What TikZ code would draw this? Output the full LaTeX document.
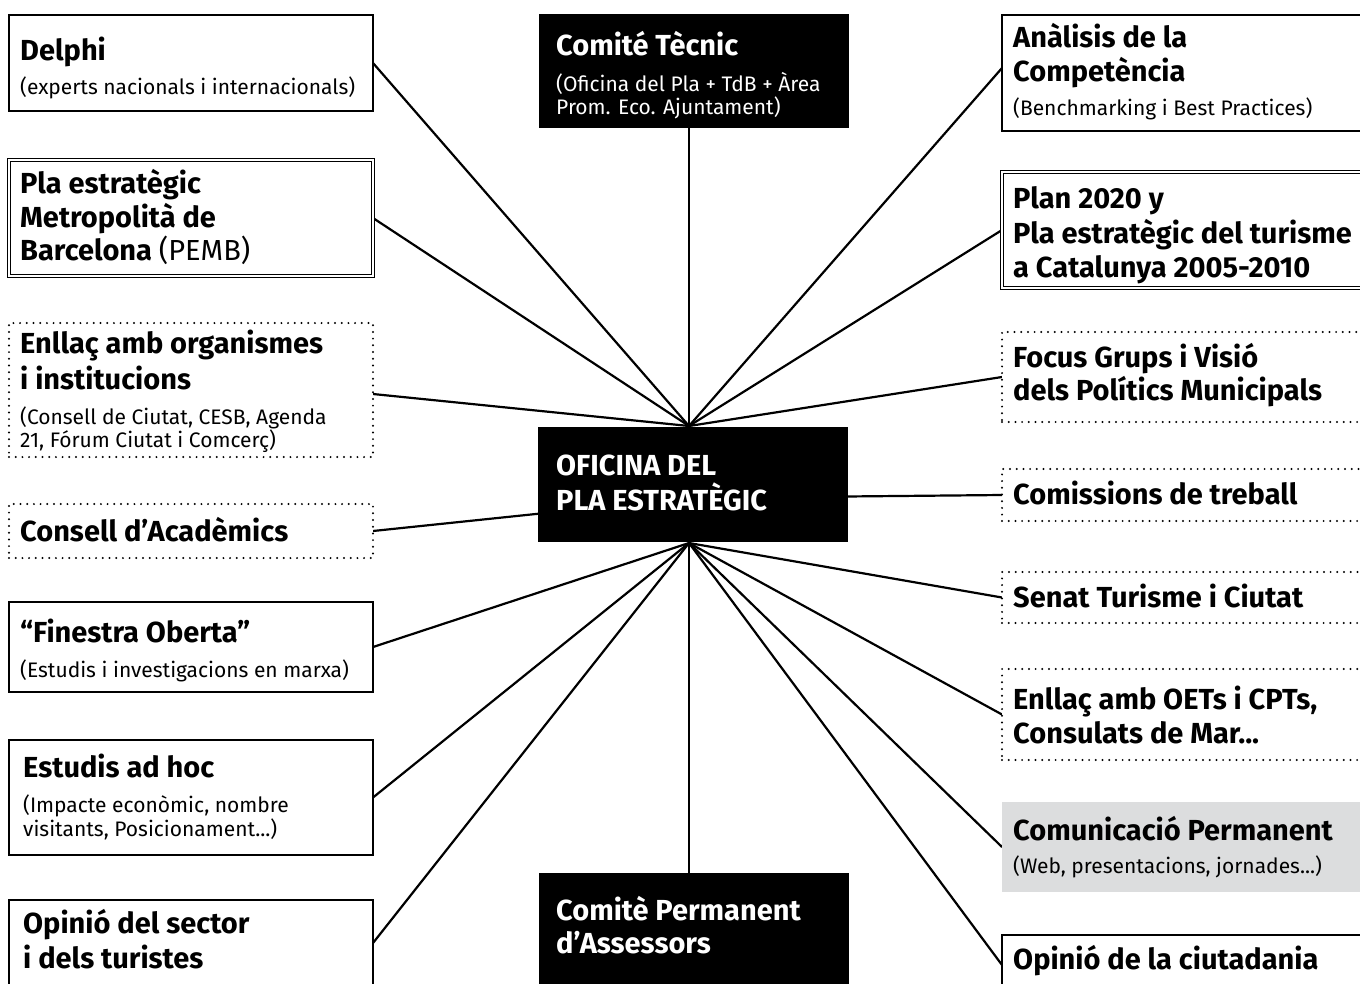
\documentclass[tikz,border=0pt]{standalone}
\usepackage{fontspec}
\setmainfont{Fira Sans}
\usetikzlibrary{backgrounds}
\definecolor{commgray}{RGB}{220,221,222}
\tikzset{
  x=1pt, y=-1pt,
  boxbase/.style={rectangle, inner sep=0pt, outer sep=0pt, anchor=north west},
  solidbox/.style={boxbase, draw=black, line width=2.4pt, fill=white},
  dblbox/.style={boxbase, draw=black, line width=1pt, double=white, double distance=1.3pt, fill=white},
  dotbox/.style={boxbase, draw=black, line width=2.2pt, dash pattern=on 0pt off 6.7pt, line cap=round, fill=white},
  greybox/.style={boxbase, fill=commgray},
  blackbox/.style={boxbase, fill=black},
  ttl/.style={inner sep=0pt, anchor=base west, font=\fontsize{29}{33}\selectfont\bfseries},
  sub/.style={inner sep=0pt, anchor=base west, font=\fontsize{21}{25}\selectfont},
  wttl/.style={ttl, text=white},
  wsub/.style={sub, text=white},
  conn/.style={draw=black, line width=2.2pt},
}
\begin{document}
\begin{tikzpicture}
\useasboundingbox (0,0) rectangle (1360,983);
\clip (0,0) rectangle (1360,983);
% left column
\node[solidbox, minimum width=364pt, minimum height=96pt] (delphi) at (9,15) {};
\node[dblbox, minimum width=364pt, minimum height=116pt] (pemb) at (9,160) {};
\node[dotbox, minimum width=364pt, minimum height=134pt] (enllac) at (9,323) {};
\node[dotbox, minimum width=364pt, minimum height=54pt] (consell) at (9,504) {};
\node[solidbox, minimum width=364pt, minimum height=90pt] (finestra) at (9,602) {};
\node[solidbox, minimum width=364pt, minimum height=115pt] (estudis) at (9,740) {};
\node[solidbox, minimum width=364pt, minimum height=90pt] (opsector) at (9,900) {};
% right column
\node[solidbox, minimum width=380pt, minimum height=116pt] (ana) at (1002,15) {};
\node[dblbox, minimum width=380pt, minimum height=116pt] (plan) at (1002,172) {};
\node[dotbox, minimum width=380pt, minimum height=90pt] (focus) at (1002,332) {};
\node[dotbox, minimum width=380pt, minimum height=52pt] (comis) at (1002,469) {};
\node[dotbox, minimum width=380pt, minimum height=51pt] (senat) at (1002,572) {};
\node[dotbox, minimum width=380pt, minimum height=91pt] (oets) at (1002,669) {};
\node[greybox, minimum width=380pt, minimum height=90pt] (comu) at (1002,802) {};
\node[solidbox, minimum width=380pt, minimum height=60pt] (opciu) at (1002,935) {};
% centre column
\node[blackbox, minimum width=310pt, minimum height=114pt] (tecnic) at (539,14) {};
\node[blackbox, minimum width=310pt, minimum height=115pt] (ofi) at (538,427) {};
\node[blackbox, minimum width=310pt, minimum height=120pt] (perm) at (539,873) {};
\coordinate (hubT) at (689,426);
\coordinate (hubM) at (689,498);
\coordinate (hubB) at (689,543);
% connectors
\begin{pgfonlayer}{background}
\draw[conn] (hubT) -- (hubT |- tecnic.south);
\draw[conn] (hubB) -- (hubB |- perm.north);
\draw[conn] (hubT) -- (delphi.east);
\draw[conn] (hubT) -- (pemb.east);
\draw[conn] (hubT) -- ([yshift=-4pt]enllac.east);
\draw[conn] (hubM) -- (consell.east);
\draw[conn] (hubB) -- (finestra.east);
\draw[conn] (hubB) -- (estudis.east);
\draw[conn] (hubB) -- ([yshift=2pt]opsector.east);
\draw[conn] (hubT) -- ([yshift=5pt]ana.west);
\draw[conn] (hubT) -- (plan.west);
\draw[conn] (hubT) -- (focus.west);
\draw[conn] (hubM) -- (comis.west);
\draw[conn] (hubB) -- (senat.west);
\draw[conn] (hubB) -- (oets.west);
\draw[conn] (hubB) -- (comu.west);
\draw[conn] (hubB) -- (opciu.west);
\end{pgfonlayer}
% texts left
\node[ttl] (t1) at (20,60) {Delphi};
\node[sub] (s1) at (20,94) {(experts nacionals i internacionals)};
\node[ttl] (t2a) at (20,193) {Pla estratègic};
\node[ttl] (t2b) at (20,227) {Metropolità de};
\node[ttl] (t2c) at (20,260) {Barcelona {\mdseries (PEMB)}};
\node[ttl] (t3a) at (20,353) {Enllaç amb organismes};
\node[ttl] (t3b) at (20,389) {i institucions};
\node[sub] (s3a) at (20,424) {(Consell de Ciutat, CESB, Agenda};
\node[sub] (s3b) at (20,447) {21, Fórum Ciutat i Comcerç)};
\node[ttl] (t4) at (20,541) {Consell d’Acadèmics};
\node[ttl] (t5) at (20,642) {“Finestra Oberta”};
\node[sub] (s5) at (20,677) {(Estudis i investigacions en marxa)};
\node[ttl] (t6) at (23,777) {Estudis ad hoc};
\node[sub] (s6a) at (23,812) {(Impacte econòmic, nombre};
\node[sub] (s6b) at (23,836) {visitants, Posicionament...)};
\node[ttl] (t7a) at (23,933) {Opinió del sector};
\node[ttl] (t7b) at (23,968) {i dels turistes};
% texts right
\node[ttl] (r1a) at (1013,47) {Anàlisis de la};
\node[ttl] (r1b) at (1013,81) {Competència};
\node[sub] (r1s) at (1013,115) {(Benchmarking i Best Practices)};
\node[ttl] (r2a) at (1013,208) {Plan 2020 y};
\node[ttl] (r2b) at (1013,243) {Pla estratègic del turisme};
\node[ttl] (r2c) at (1013,277) {a Catalunya 2005-2010};
\node[ttl] (r3a) at (1013,367) {Focus Grups i Visió};
\node[ttl] (r3b) at (1013,400) {dels Polítics Municipals};
\node[ttl] (r4) at (1013,504) {Comissions de treball};
\node[ttl] (r5) at (1013,607) {Senat Turisme i Ciutat};
\node[ttl] (r6a) at (1013,709) {Enllaç amb OETs i CPTs,};
\node[ttl] (r6b) at (1013,743) {Consulats de Mar...};
\node[ttl] (r7) at (1013,840) {Comunicació Permanent};
\node[sub] (r7s) at (1013,873) {(Web, presentacions, jornades...)};
\node[ttl] (r8) at (1013,969) {Opinió de la ciutadania};
% texts centre
\node[wttl] (c1) at (556,55) {Comité Tècnic};
\node[wsub] (c1a) at (556,91) {(Oficina del Pla + TdB + Àrea};
\node[wsub] (c1b) at (556,114) {Prom. Eco. Ajuntament)};
\node[wttl] (c2a) at (556,475) {OFICINA DEL};
\node[wttl] (c2b) at (556,510) {PLA ESTRATÈGIC};
\node[wttl] (c3a) at (556,920) {Comitè Permanent};
\node[wttl] (c3b) at (556,953) {d’Assessors};
\end{tikzpicture}
\end{document}
